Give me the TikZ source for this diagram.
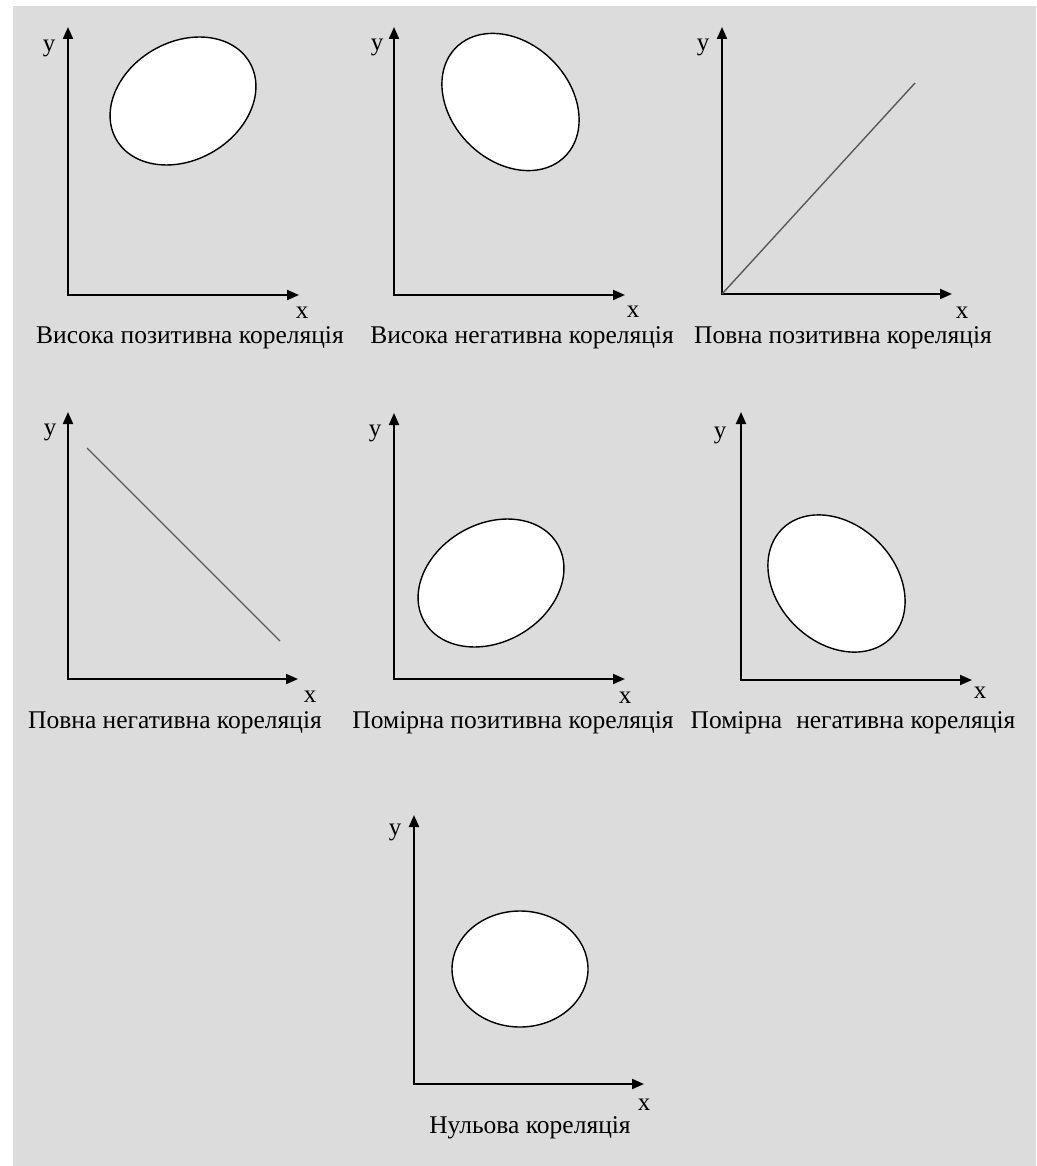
\documentclass[tikz,border=0pt]{standalone}
\usepackage{fontspec}
\setmainfont{Liberation Serif}
\usetikzlibrary{arrows.meta}
\definecolor{bgray}{HTML}{DCDCDC}
\begin{document}
\begin{tikzpicture}[x=1pt,y=-1pt,
  axis/.style={line width=2pt, {Triangle[length=12pt,width=10pt]}-{Triangle[length=12pt,width=10pt]}, line join=miter},
  blob/.style={draw=black, line width=1.4pt, fill=white},
  trend/.style={draw=black!65, line width=1.4pt},
  lbl/.style={font=\fontsize{25.5}{30}\selectfont, anchor=base, inner sep=0pt},
  ax/.style={font=\fontsize{25}{30}\selectfont, inner sep=0pt}]
\useasboundingbox (0,0) rectangle (1036,1166);
\fill[bgray] (13,6) rectangle (1036,1166);
% Panel 1
\coordinate (o1) at (68,295); \coordinate (y1) at (68,27); \coordinate (x1) at (299,295);
\coordinate (c1) at (183,101);
\draw[axis] (y1) -- (o1) -- (x1);
\node[ax] (ly1) at (49,48) {y};
\node[ax] (lx1) at (302,313) {x};
\draw[blob, shift={(c1)}, rotate=30] (0,0) ellipse [x radius=77pt, y radius=59pt];
\node[lbl] (t1) at (190,343) {Висока позитивна кореляція};
% Panel 2
\coordinate (o2) at (394,295); \coordinate (y2) at (394,27); \coordinate (x2) at (625,295);
\coordinate (c2) at (510.5,102);
\draw[axis] (y2) -- (o2) -- (x2);
\node[ax] (ly2) at (377,47) {y};
\node[ax] (lx2) at (633,312) {x};
\draw[blob, shift={(c2)}, rotate=-45] (0,0) ellipse [x radius=77pt, y radius=59pt];
\node[lbl] (t2) at (522,343) {Висока негативна кореляція};
% Panel 3
\coordinate (o3) at (722,294); \coordinate (y3) at (722,27); \coordinate (x3) at (952,294);
\coordinate (e3) at (915,83);
\draw[axis] (y3) -- (o3) -- (x3);
\draw[trend] (o3) -- (e3);
\node[ax] (ly3) at (703,47) {y};
\node[ax] (lx3) at (962,313) {x};
\node[lbl] (t3) at (843,343) {Повна позитивна кореляція};
% Panel 4
\coordinate (o4) at (68,679); \coordinate (y4) at (68,412); \coordinate (x4) at (298,679);
\coordinate (s4) at (87,448); \coordinate (e4) at (280,641);
\draw[axis] (y4) -- (o4) -- (x4);
\draw[trend] (s4) -- (e4);
\node[ax] (ly4) at (50,432) {y};
\node[ax] (lx4) at (310,697) {x};
\node[lbl] (t4) at (175,728) {Повна негативна кореляція};
% Panel 5
\coordinate (o5) at (394,679); \coordinate (y5) at (394,413); \coordinate (x5) at (625,679);
\coordinate (c5) at (491,583);
\draw[axis] (y5) -- (o5) -- (x5);
\node[ax] (ly5) at (375,433) {y};
\node[ax] (lx5) at (625,698) {x};
\draw[blob, shift={(c5)}, rotate=30] (0,0) ellipse [x radius=77pt, y radius=59pt];
\node[lbl] (t5) at (513,728) {Помірна позитивна кореляція};
% Panel 6
\coordinate (o6) at (741,680); \coordinate (y6) at (741,412); \coordinate (x6) at (972,680);
\coordinate (c6) at (836.5,583.5);
\draw[axis] (y6) -- (o6) -- (x6);
\node[ax] (ly6) at (720,435) {y};
\node[ax] (lx6) at (980,693) {x};
\draw[blob, shift={(c6)}, rotate=-45] (0,0) ellipse [x radius=77pt, y radius=59pt];
\node[lbl] (t6) at (853,728) {Помірна\hspace{0.3em} негативна кореляція};
% Panel 7
\coordinate (o7) at (414,1084); \coordinate (y7) at (414,815); \coordinate (x7) at (644,1084);
\coordinate (c7) at (520,969);
\draw[axis] (y7) -- (o7) -- (x7);
\node[ax] (ly7) at (395,832) {y};
\node[ax] (lx7) at (644,1105) {x};
\draw[blob] (c7) ellipse [x radius=68pt, y radius=58pt];
\node[lbl] (t7) at (530,1133) {Нульова кореляція};
\end{tikzpicture}
\end{document}
